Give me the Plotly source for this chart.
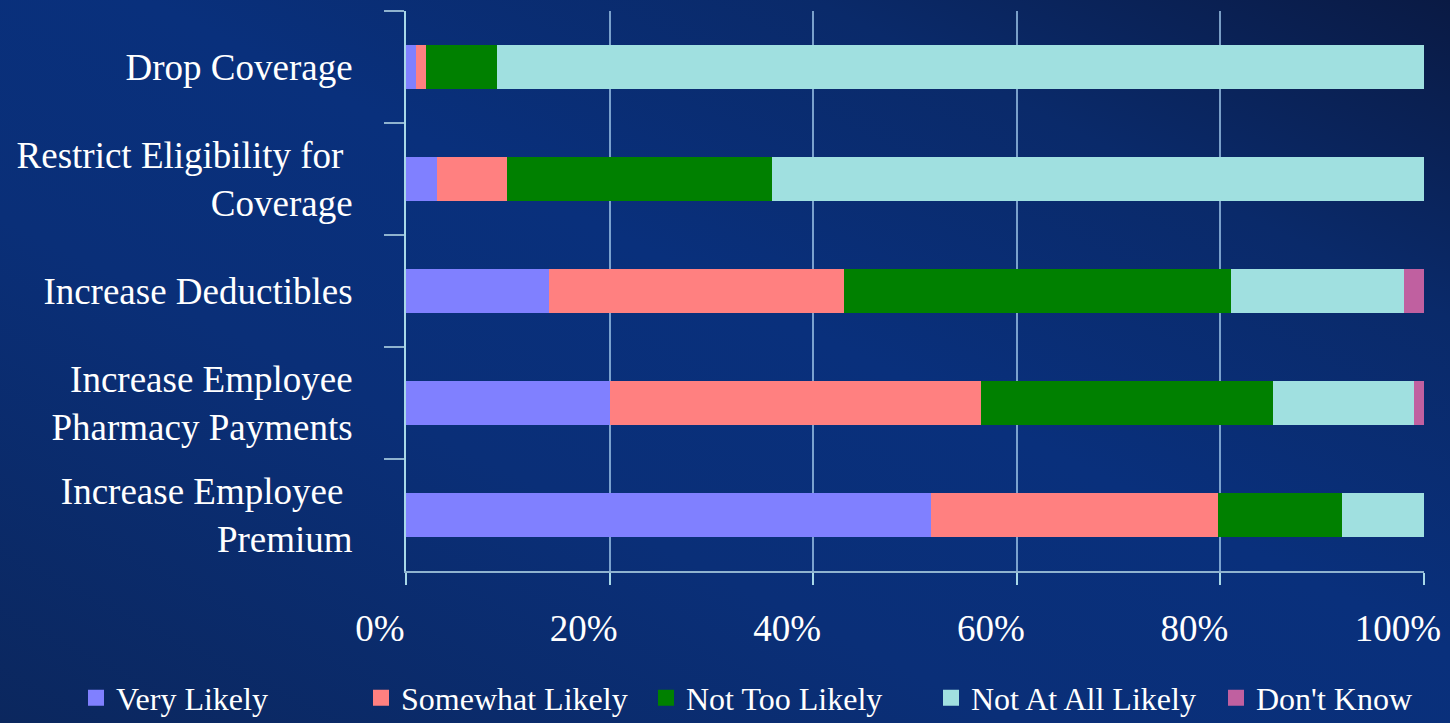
import base64
import plotly.graph_objects as go

categories = [
    "Drop Coverage",
    "Restrict Eligibility for\u00a0<br>Coverage",
    "Increase Deductibles",
    "Increase Employee<br>Pharmacy Payments",
    "Increase Employee\u00a0<br>Premium",
]
series_names = ["Very Likely", "Somewhat Likely", "Not Too Likely", "Not At All Likely", "Don't Know"]
very_likely = [1.0, 3.0, 14.0, 20.0, 51.6]
somewhat_likely = [1.0, 6.9, 29.0, 36.5, 28.2]
not_too_likely = [6.9, 26.1, 38.0, 28.7, 12.1]
not_at_all_likely = [91.1, 64.0, 17.0, 13.8, 8.1]
dont_know = [0.0, 0.0, 2.0, 1.0, 0.0]
tick_values = [0, 20, 40, 60, 80, 100]
tick_labels = ["0%", "20%", "40%", "60%", "80%", "100%"]

colors = ["#8080ff", "#ff8080", "#008000", "#a0e0e0", "#c060a0"]
series_values = [very_likely, somewhat_likely, not_too_likely, not_at_all_likely, dont_know]

fig = go.Figure()
for name, vals, col in zip(series_names, series_values, colors):
    fig.add_trace(go.Bar(
        y=categories, x=vals, name=name, orientation="h",
        marker=dict(color=col, line=dict(width=0)),
        legendgroup=name, showlegend=False,
        hoverinfo="x+name",
    ))
# legend entries (square swatches) linked to the bar traces
for name, col in zip(series_names, colors):
    fig.add_trace(go.Scatter(
        x=[None], y=[None], mode="markers", name=name, legendgroup=name,
        marker=dict(symbol="square", size=16, color=col, line=dict(width=0)),
        showlegend=True, hoverinfo="skip",
    ))

svg = (
    '<svg xmlns="http://www.w3.org/2000/svg" width="1450" height="723" viewBox="0 0 1450 723" preserveAspectRatio="none">'
    '<defs><linearGradient id="g" x1="0" y1="1" x2="1" y2="0">'
    '<stop offset="0" stop-color="#0b275e"/>'
    '<stop offset="0.35" stop-color="#0a2f78"/>'
    '<stop offset="0.55" stop-color="#09307c"/>'
    '<stop offset="0.78" stop-color="#0a2a6a"/>'
    '<stop offset="1" stop-color="#0a1a44"/>'
    '</linearGradient></defs>'
    '<rect x="0" y="0" width="1450" height="723" fill="url(#g)"/></svg>'
)
src = "data:image/svg+xml;base64," + base64.b64encode(svg.encode()).decode()

L, R, T, B = 406, 26, 11, 152
pw, ph = 1450 - L - R, 723 - T - B

fig.update_layout(
    width=1450, height=723,
    barmode="stack", bargap=0.6,
    margin=dict(l=L, r=R, t=T, b=B, pad=0, autoexpand=False),
    paper_bgcolor="#0a2c72", plot_bgcolor="rgba(0,0,0,0)",
    font=dict(family="Liberation Serif, Times New Roman, serif", color="white", size=37),
    images=[dict(
        source=src, xref="paper", yref="paper",
        x=-L / pw, y=1 + T / ph, sizex=1450 / pw, sizey=723 / ph,
        xanchor="left", yanchor="top", sizing="stretch", layer="below",
    )],
    legend=dict(
        orientation="h", xref="paper", yref="paper",
        x=(76 - L) / pw, y=1 - (698 - T) / ph, xanchor="left", yanchor="middle",
        font=dict(size=32, color="white"), bgcolor="rgba(0,0,0,0)",
        traceorder="normal", itemsizing="trace",
        entrywidth=240, entrywidthmode="pixels",
    ),
    showlegend=True,
)
fig.update_xaxes(
    range=[0, 100], tickmode="array", tickvals=tick_values, ticktext=tick_labels,
    showgrid=True, gridcolor="rgba(160,200,235,0.75)", gridwidth=1.5,
    showline=True, linecolor="#8fb3cf", linewidth=2,
    ticks="outside", ticklen=12, tickcolor="#a8d8e8", tickwidth=2,
    ticklabelstandoff=12, ticklabelshift=-26,
    tickfont=dict(size=37, color="white"),
    zeroline=False, fixedrange=True,
)
fig.update_yaxes(
    autorange="reversed", type="category",
    showgrid=False, showline=True, linecolor="#a8d8e8", linewidth=2,
    ticks="outside", ticklen=20, tickcolor="#8fb3cf", tickwidth=2,
    tickson="boundaries", ticklabelstandoff=44,
    tickfont=dict(size=37, color="white"),
    fixedrange=True,
)

fig.write_html(
    "out.html",
    config={"displayModeBar": False},
    post_script="document.body.style.margin='0';document.body.style.overflow='hidden';",
)
